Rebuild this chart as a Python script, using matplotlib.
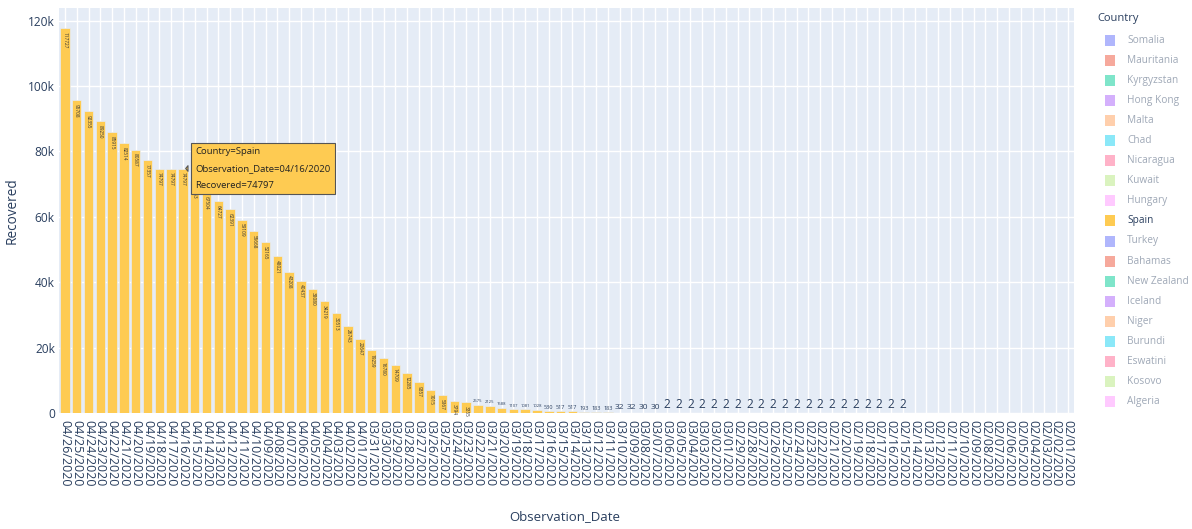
import matplotlib
matplotlib.use('Agg')
from matplotlib import pyplot as plt
from matplotlib.patches import Rectangle
from datetime import date, timedelta

# Spain recovered per observation date (newest first, as in the chart)
start = date(2020, 4, 26)
dates = [(start - timedelta(days=k)).strftime('%m/%d/%Y') for k in range(86)]
recovered = [117727, 95708, 92355, 89250, 85915, 82514, 80587, 77357,
             74797, 74797, 74797, 70853, 67504, 64727, 62391, 59109,
             55668, 52165, 48021, 43208, 40437, 38080, 34219, 30513,
             26743, 22647, 19259, 16780, 14709, 12285, 9357, 7015,
             5367, 3794, 3355, 2575, 2125, 1588, 1107, 1081,
             1028, 530, 517, 517, 193, 183, 183, 32, 32, 30,
             30] + [2] * 21 + [0] * 14

countries = ['Somalia', 'Mauritania', 'Kyrgyzstan', 'Hong Kong', 'Malta', 'Chad',
             'Nicaragua', 'Kuwait', 'Hungary', 'Spain', 'Turkey', 'Bahamas',
             'New Zealand', 'Iceland', 'Niger', 'Burundi', 'Eswatini', 'Kosovo',
             'Algeria']
shown = 'Spain'
hover_date = '04/16/2020'

palette = ['#636EFA', '#EF553B', '#00CC96', '#AB63FA', '#FFA15A',
           '#19D3F3', '#FF6692', '#B6E880', '#FF97FF', '#FECB52']
txt_col = '#2a3f5f'
bar_col = palette[countries.index(shown) % len(palette)]

plt.rcParams['font.family'] = ['Open Sans', 'DejaVu Sans']

fig = plt.figure(figsize=(11.92, 5.29), dpi=100)
W, H = 1192., 529.
ax = fig.add_axes([59 / W, 1 - 413 / H, (1074 - 59) / W, (413 - 8) / H])
ax.set_facecolor('#E5ECF6')

xs = list(range(len(dates)))
ax.bar(xs, recovered, width=0.8, color=bar_col, edgecolor='#E5ECF6', linewidth=0.5, zorder=3)

# bar text: inside (rotated) for tall bars, outside above for small ones
for i, v in enumerate(recovered):
    if v == 0:
        continue
    s = str(v)
    if v > 3000:
        ax.annotate(s, (i, v), xytext=(0, -2.5), textcoords='offset points',
                    rotation=-90, ha='center', va='top', fontsize=3.4,
                    color='#333333', zorder=4)
    else:
        fs = min(8.6, 12.0 / len(s))
        ax.annotate(s, (i, v), xytext=(0, 1.2), textcoords='offset points',
                    ha='center', va='bottom', fontsize=fs, color=txt_col, zorder=4)

ax.set_xlim(-0.5, len(dates) - 0.5)
ax.set_ylim(0, 123900)
ax.set_xticks(xs)
ax.set_xticklabels(dates, rotation=-90, fontsize=9.0, color=txt_col, va='top', ha='center')
yt = [0, 20000, 40000, 60000, 80000, 100000, 120000]
ax.set_yticks(yt)
ax.set_yticklabels(['0' if t == 0 else '%dk' % (t // 1000) for t in yt], fontsize=8.6, color=txt_col)
ax.tick_params(axis='both', length=0)
ax.tick_params(axis='x', pad=5)
ax.tick_params(axis='y', pad=3)
ax.grid(True, color='white', linewidth=1, zorder=0)
ax.set_axisbelow(True)
for sp in ax.spines.values():
    sp.set_visible(False)

ax.set_xlabel('Observation_Date', fontsize=9.5, color=txt_col)
ax.xaxis.set_label_coords(0.4985, -0.2395)
ax.set_ylabel('Recovered', fontsize=9.8, color=txt_col)
ax.yaxis.set_label_coords(-0.0385, 0.5)

# hover label
hi = dates.index(hover_date)
hv = recovered[hi]
hover_txt = 'Country={}\nObservation_Date={}\nRecovered={}'.format(shown, hover_date, hv)
ax.annotate(hover_txt, (hi, hv), xytext=(9, 0), textcoords='offset points',
            ha='left', va='center', fontsize=6.8, color='#222222', linespacing=2.15,
            bbox=dict(boxstyle='square,pad=0.45', fc=bar_col, ec='#555555', lw=0.8),
            arrowprops=dict(arrowstyle='wedge,tail_width=0.6,shrink_factor=0.5',
                            fc=bar_col, ec='#555555', lw=0.8),
            zorder=10)

# legend
fig.text(1097 / W, 1 - 19 / H, 'Country', fontsize=8.0, color=txt_col, ha='left', va='center')
for k, c in enumerate(countries):
    yc = 40 + 20.1 * k
    on = c == shown
    col = palette[k % len(palette)]
    fig.patches.append(Rectangle((1105 / W, 1 - (yc + 5.5) / H), 10 / W, 11 / H,
                                 transform=fig.transFigure, fc=col,
                                 alpha=1.0 if on else 0.5, ec='none'))
    fig.text(1127 / W, 1 - yc / H, c, fontsize=7.3, color=txt_col,
             alpha=1.0 if on else 0.45, ha='left', va='center')

fig.savefig('out.png', dpi=100, facecolor='white')
